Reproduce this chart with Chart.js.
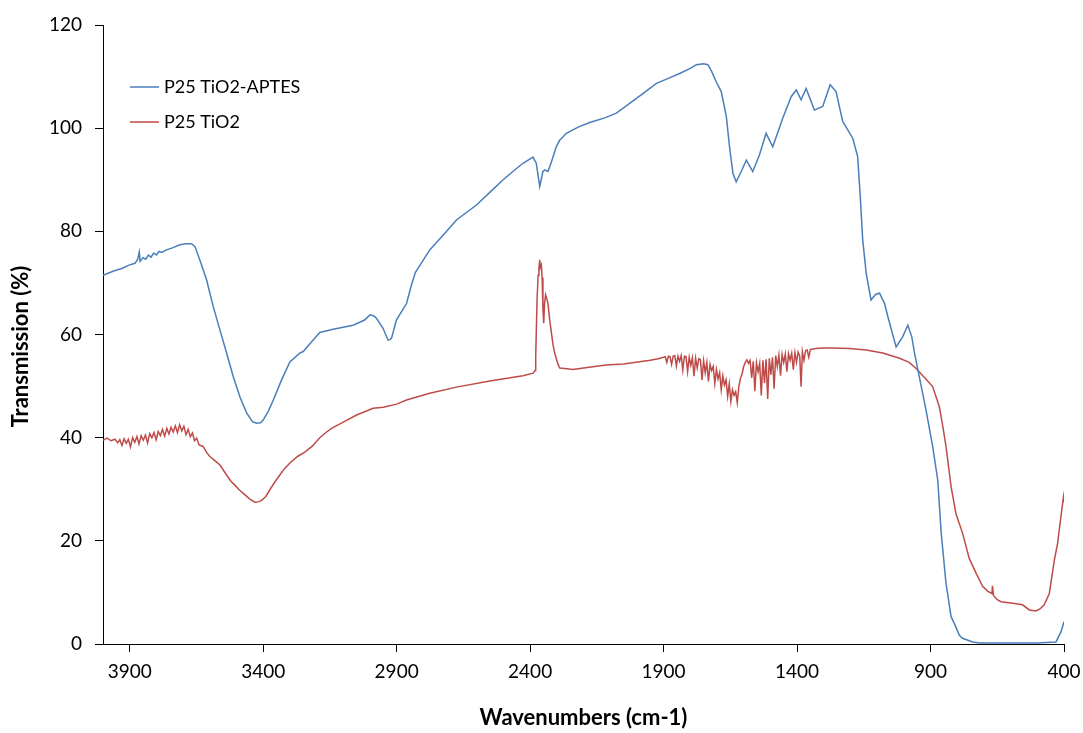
<!DOCTYPE html>
<html>
<head>
<meta charset="utf-8">
<title>FTIR - P25 TiO2</title>
<script src="https://cdn.jsdelivr.net/npm/chart.js@4.4.1/dist/chart.umd.min.js"></script>
<style>
  html, body { margin: 0; padding: 0; background: #fff; }
  #wrap { width: 1083px; height: 733px; position: relative; }
</style>
</head>
<body>
<div id="wrap"><canvas id="chart-ftir"></canvas></div>
<script>
(function() {
  "use strict";

  // 目盛り
  var X_TICKS = [3900, 3400, 2900, 2400, 1900, 1400, 900, 400];
  var Y_TICKS = [0, 20, 40, 60, 80, 100, 120];

  // P25 TiO2-APTES (cm-1 / %)
  var blueWn = [4000, 3960, 3930, 3900, 3880, 3870, 3864, 3861, 3850, 3840,
    3830, 3820, 3810, 3800, 3790, 3780, 3762, 3740, 3712, 3690,
    3668, 3655, 3637, 3612, 3587, 3562, 3537, 3512, 3487, 3462,
    3440, 3425, 3410, 3400, 3380, 3362, 3331, 3300, 3263, 3250,
    3220, 3188, 3138, 3063, 3020, 3000, 2985, 2975, 2951, 2932,
    2925, 2919, 2901, 2863, 2845, 2830, 2776, 2720, 2676, 2601,
    2550, 2501, 2460, 2427, 2389, 2377, 2364, 2352, 2345, 2333,
    2320, 2302, 2290, 2264, 2220, 2177, 2120, 2077, 2027, 1975,
    1927, 1880, 1840, 1800, 1777, 1750, 1734, 1720, 1703, 1684,
    1665, 1653, 1640, 1628, 1610, 1590, 1566, 1541, 1516, 1491,
    1453, 1422, 1403, 1385, 1366, 1335, 1304, 1276, 1254, 1229,
    1191, 1173, 1164, 1154, 1141, 1123, 1105, 1091, 1072, 1060,
    1029, 1005, 985, 970, 960, 942, 917, 892, 873, 860,
    842, 823, 811, 792, 780, 742, 717, 500, 430, 411,
    400];
  var blueT = [71.5, 72.3, 72.8, 73.5, 73.8, 74.6, 76.0, 74.2, 74.9, 74.6,
    75.4, 75.0, 75.8, 75.4, 76.1, 75.9, 76.4, 76.8, 77.4, 77.6,
    77.6, 77.0, 74.4, 70.6, 65.4, 60.9, 56.4, 51.8, 47.9, 44.8,
    43.1, 42.8, 42.9, 43.4, 45.2, 47.3, 51.2, 54.7, 56.4, 56.7,
    58.5, 60.4, 61.0, 61.8, 62.8, 63.8, 63.6, 63.1, 61.2, 58.9,
    59.0, 59.3, 62.8, 66.0, 69.5, 72.0, 76.4, 79.6, 82.2, 85.1,
    87.6, 90.0, 91.8, 93.2, 94.4, 93.2, 88.7, 91.6, 91.9, 91.6,
    93.5, 96.4, 97.6, 99.0, 100.2, 101.1, 102.0, 102.9, 104.8, 106.8,
    108.7, 109.7, 110.6, 111.6, 112.3, 112.5, 112.3, 111.0, 109.0, 107.1,
    102.3, 96.4, 91.2, 89.6, 91.5, 93.8, 91.6, 94.8, 99.0, 96.4,
    102.0, 106.1, 107.4, 105.5, 107.7, 103.5, 104.2, 108.4, 107.1, 101.3,
    98.0, 94.5, 87.4, 78.3, 71.9, 66.7, 67.8, 68.0, 66.0, 63.5,
    57.6, 59.5, 61.8, 59.5, 56.4, 51.8, 45.4, 38.3, 31.8, 21.5,
    11.8, 5.3, 4.0, 1.7, 1.1, 0.4, 0.2, 0.2, 0.4, 2.4,
    4.3];

  // P25 TiO2 (cm-1 / %)
  var redWn = [4000, 3985, 3970, 3955, 3945, 3937, 3929, 3921, 3913, 3905,
    3897, 3889, 3881, 3873, 3865, 3857, 3849, 3841, 3833, 3825,
    3817, 3809, 3801, 3793, 3785, 3777, 3769, 3761, 3753, 3745,
    3737, 3729, 3721, 3713, 3705, 3697, 3689, 3681, 3673, 3665,
    3657, 3649, 3640, 3625, 3610, 3599, 3580, 3562, 3540, 3520,
    3506, 3490, 3468, 3450, 3431, 3415, 3405, 3390, 3375, 3355,
    3337, 3320, 3300, 3270, 3244, 3215, 3188, 3165, 3144, 3100,
    3050, 2988, 2950, 2900, 2863, 2776, 2676, 2551, 2427, 2389,
    2381, 2379, 2374, 2370, 2367, 2364, 2362, 2358, 2355, 2352,
    2349, 2346, 2342, 2338, 2333, 2327, 2320, 2314, 2308, 2296,
    2289, 2270, 2240, 2200, 2115, 2050, 1990, 1950, 1920, 1900,
    1894, 1888, 1882, 1876, 1870, 1864, 1858, 1852, 1846, 1840,
    1834, 1828, 1822, 1816, 1810, 1804, 1798, 1792, 1786, 1780,
    1774, 1768, 1762, 1756, 1750, 1744, 1738, 1732, 1726, 1720,
    1714, 1708, 1702, 1696, 1690, 1684, 1678, 1672, 1666, 1660,
    1654, 1648, 1642, 1636, 1630, 1624, 1618, 1612, 1606, 1600,
    1594, 1588, 1582, 1576, 1570, 1564, 1558, 1552, 1546, 1540,
    1534, 1528, 1522, 1516, 1510, 1504, 1498, 1492, 1486, 1480,
    1474, 1468, 1462, 1456, 1450, 1444, 1438, 1432, 1426, 1420,
    1414, 1408, 1402, 1396, 1390, 1385, 1380, 1374, 1368, 1362,
    1356, 1350, 1340, 1330, 1300, 1266, 1204, 1141, 1079, 1016,
    980, 954, 920, 892, 867, 855, 842, 823, 805, 780,
    755, 729, 705, 685, 670, 668, 664, 650, 636, 592,
    555, 530, 505, 490, 474, 455, 436, 424, 412, 405,
    402, 400];
  var redT = [39.5, 39.9, 39.4, 39.7, 39.0, 39.6, 38.5, 39.8, 38.9, 39.7,
    38.2, 40.0, 39.1, 40.2, 38.8, 40.4, 39.5, 40.5, 39.0, 40.8,
    40.0, 41.0, 39.6, 41.2, 40.4, 41.6, 40.3, 41.8, 40.7, 42.0,
    41.1, 42.3, 41.0, 42.5, 41.3, 42.2, 40.6, 41.6, 40.2, 40.9,
    39.4, 39.9, 38.6, 38.3, 37.0, 36.3, 35.5, 34.7, 33.0, 31.5,
    30.8, 29.9, 28.9, 28.1, 27.5, 27.6, 27.9, 28.6, 29.9, 31.5,
    32.8, 34.0, 35.1, 36.4, 37.2, 38.4, 40.0, 41.0, 41.8, 43.0,
    44.4, 45.7, 45.9, 46.5, 47.3, 48.6, 49.8, 51.0, 52.0, 52.5,
    53.0, 55.7, 66.7, 71.5, 72.8, 74.5, 73.0, 73.5, 71.0, 65.0,
    62.2, 66.0, 67.7, 67.0, 66.0, 63.0, 60.2, 58.0, 56.4, 54.3,
    53.5, 53.4, 53.2, 53.5, 54.1, 54.3, 54.7, 55.0, 55.3, 55.6,
    55.7, 54.6, 55.8, 55.7, 54.2, 55.8, 55.9, 53.9, 55.8, 54.8,
    55.9, 53.1, 55.8, 55.7, 52.8, 55.6, 54.0, 55.5, 51.9, 55.4,
    53.5, 55.3, 55.1, 51.2, 54.9, 52.6, 54.6, 50.9, 54.2, 53.0,
    53.8, 50.5, 53.2, 51.4, 52.6, 49.3, 52.0, 50.2, 51.2, 48.0,
    50.4, 47.0, 49.3, 48.2, 48.9, 46.8, 49.9, 51.5, 52.4, 53.8,
    54.6, 55.1, 54.4, 55.0, 51.6, 54.8, 49.0, 54.5, 52.8, 54.4,
    48.2, 55.0, 50.6, 55.2, 47.5, 55.4, 52.2, 55.6, 49.5, 55.9,
    53.8, 56.0, 52.0, 56.1, 54.6, 56.2, 52.8, 56.3, 55.0, 56.4,
    53.2, 56.5, 54.6, 56.6, 55.8, 49.9, 56.7, 55.0, 56.9, 57.0,
    55.6, 57.1, 57.2, 57.3, 57.4, 57.4, 57.3, 57.0, 56.4, 55.4,
    54.6, 53.4, 51.5, 49.9, 46.0, 42.5, 38.3, 30.5, 25.3, 21.5,
    16.6, 13.7, 11.2, 10.2, 9.8, 11.3, 9.4, 8.6, 8.2, 7.9,
    7.6, 6.6, 6.4, 6.8, 7.6, 9.8, 16.3, 19.5, 24.5, 27.3,
    28.5, 27.5];

  var FONT = 'Lato, "Open Sans", sans-serif';
  var Y_TITLE = 'Transmission (%)';

  function toPoints(wn, vals) {
    return wn.map(function(w, i) { return { x: w, y: vals[i] }; });
  }

  function fixTicks(list) {
    return function(axis) {
      axis.ticks = list.map(function(v) { return { value: v }; });
    };
  }

  function plainLabel(v) {
    return String(v);
  }

  // 凡例はプロット内の左上、縦軸タイトルは少し下寄せで描く
  var overlay = {
    id: 'overlay',
    afterDraw: function(chart) {
      var ctx = chart.ctx;
      var area = chart.chartArea;
      ctx.save();
      ctx.font = '18px ' + FONT;
      ctx.textBaseline = 'middle';
      ctx.textAlign = 'left';
      chart.data.datasets.forEach(function(ds, i) {
        var x = area.left + 27;
        var y = area.top + 62 + i * 35;
        ctx.strokeStyle = ds.borderColor;
        ctx.lineWidth = 1.5;
        ctx.beginPath();
        ctx.moveTo(x, y);
        ctx.lineTo(x + 29, y);
        ctx.stroke();
        ctx.fillStyle = '#000';
        ctx.fillText(ds.label, x + 34, y);
      });

      ctx.translate(21, (area.top + area.bottom) / 2 + 12);
      ctx.rotate(-Math.PI / 2);
      ctx.textAlign = 'center';
      ctx.font = 'bold 22px ' + FONT;
      ctx.fillText(Y_TITLE, 0, 0);
      ctx.restore();
    }
  };

  var axisGrid = {
    drawOnChartArea: false,
    drawTicks: true,
    tickLength: 8,
    color: '#000',
    lineWidth: 1
  };

  new Chart(document.getElementById('chart-ftir'), {
    type: 'line',
    data: {
      datasets: [{
        label: 'P25 TiO2-APTES',
        data: toPoints(blueWn, blueT),
        borderColor: '#4a7ebb',
        borderWidth: 1.5,
        pointRadius: 0,
        tension: 0,
        fill: false
      }, {
        label: 'P25 TiO2',
        data: toPoints(redWn, redT),
        borderColor: '#be4b48',
        borderWidth: 1.5,
        pointRadius: 0,
        tension: 0,
        fill: false
      }]
    },
    options: {
      responsive: true,
      maintainAspectRatio: false,
      animation: false,
      layout: { padding: { top: 25, right: 19, bottom: 0, left: 0 } },
      plugins: {
        legend: { display: false },
        tooltip: { enabled: false }
      },
      scales: {
        x: {
          type: 'linear',
          reverse: true,
          min: 400,
          max: 4000,
          afterBuildTicks: fixTicks(X_TICKS),
          afterFit: function(s) {
            s.height = 89;
            s.paddingLeft = 0;
            s.paddingRight = 0;
          },
          grid: axisGrid,
          border: { color: '#000', width: 1 },
          ticks: {
            autoSkip: false,
            maxRotation: 0,
            padding: 8,
            color: '#000',
            font: { family: FONT, size: 19 },
            callback: plainLabel
          },
          title: {
            display: true,
            text: 'Wavenumbers (cm-1)',
            color: '#000',
            font: { family: FONT, size: 22, weight: 'bold' },
            padding: { top: 0, bottom: 2 }
          }
        },
        y: {
          min: 0,
          max: 120,
          afterBuildTicks: fixTicks(Y_TICKS),
          afterFit: function(s) { s.width = 103; },
          grid: axisGrid,
          border: { color: '#000', width: 1 },
          ticks: {
            padding: 13,
            color: '#000',
            font: { family: FONT, size: 19 },
            callback: plainLabel
          },
          title: { display: false }
        }
      }
    },
    plugins: [overlay]
  });
})();
</script>
</body>
</html>
